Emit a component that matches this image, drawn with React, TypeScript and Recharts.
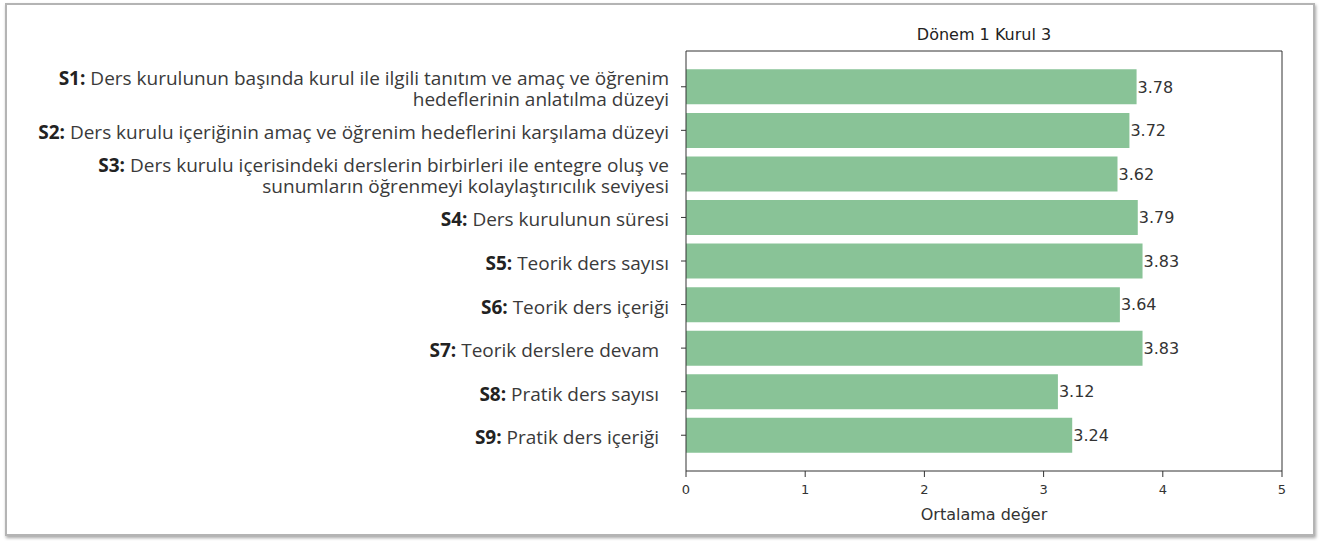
import React from 'react';
import { BarChart, Bar, XAxis, YAxis, LabelList } from 'recharts';

const codes = ['S1', 'S2', 'S3', 'S4', 'S5', 'S6', 'S7', 'S8', 'S9'];
const questions = [
  ['Ders kurulunun başında kurul ile ilgili tanıtım ve amaç ve öğrenim', 'hedeflerinin anlatılma düzeyi'],
  ['Ders kurulu içeriğinin amaç ve öğrenim hedeflerini karşılama düzeyi'],
  ['Ders kurulu içerisindeki derslerin birbirleri ile entegre oluş ve', 'sunumların öğrenmeyi kolaylaştırıcılık seviyesi'],
  ['Ders kurulunun süresi'],
  ['Teorik ders sayısı'],
  ['Teorik ders içeriği'],
  ['Teorik derslere devam  '],
  ['Pratik ders sayısı  '],
  ['Pratik ders içeriği  '],
];
const scores = [3.78, 3.72, 3.62, 3.79, 3.83, 3.64, 3.83, 3.12, 3.24];
const xTicks = [0, 1, 2, 3, 4, 5];

const data = codes.map((code, i) => ({ code, score: scores[i] }));

const LABEL_FONT = '"Open Sans", sans-serif';
const MPL_FONT = '"DejaVu Sans", sans-serif';

// left labels: bold "Sx:" followed by the question, wrapped like the original
const QuestionTick = (props: any) => {
  const { x, y, payload } = props;
  const i = codes.indexOf(payload.value);
  const lines = questions[i] || [];
  const lh = 21;
  const startY = y - ((lines.length - 1) * lh) / 2 + 2;
  const tx = x - 10;
  const textProps = {
    x: tx,
    textAnchor: 'end' as const,
    dominantBaseline: 'central' as const,
    fontFamily: LABEL_FONT,
    fontSize: 19,
    fill: '#3a3a3a',
    style: { whiteSpace: 'pre' as const },
  };
  return (
    <g>
      {lines.map((line, k) => (
        <text key={k} {...textProps} y={startY + k * lh}>
          {k === 0 ? (
            <>
              <tspan fontWeight="bold" fill="#222">{payload.value + ': '}</tspan>
              <tspan>{line}</tspan>
            </>
          ) : (
            line
          )}
        </text>
      ))}
    </g>
  );
};

export default function App() {
  return (
    <div style={{ position: 'absolute', left: 0, top: 0, width: 1322, height: 541, background: '#fff', overflow: 'hidden' }}>
      <div
        style={{
          position: 'absolute',
          left: 686,
          width: 596,
          top: 25,
          textAlign: 'center',
          fontFamily: MPL_FONT,
          fontSize: 16,
          color: '#222',
        }}
      >
        Dönem 1 Kurul 3
      </div>
      <div style={{ position: 'absolute', left: 0, top: 0 }}>
        <BarChart
          width={1322}
          height={541}
          data={data}
          layout="vertical"
          margin={{ top: 50, right: 39, bottom: 10, left: 0 }}
          barCategoryGap="10%"
        >
          <XAxis
            type="number"
            domain={[0, 5]}
            ticks={xTicks}
            allowDataOverflow
            axisLine={{ stroke: '#333' }}
            tickLine={{ stroke: '#333' }}
            tickSize={6}
            tickMargin={8}
            tick={{ fontFamily: MPL_FONT, fontSize: 13, fill: '#333' }}
            height={60}
            label={{
              value: 'Ortalama değer',
              position: 'insideBottom',
              offset: 11,
              fontFamily: MPL_FONT,
              fontSize: 16,
              fill: '#333',
            }}
          />
          <XAxis
            xAxisId="top"
            orientation="top"
            type="number"
            domain={[0, 5]}
            ticks={xTicks}
            height={1}
            tick={false}
            tickLine={false}
            axisLine={{ stroke: '#333' }}
          />
          <YAxis
            type="category"
            dataKey="code"
            width={686}
            padding={{ top: 14, bottom: 14 }}
            axisLine={{ stroke: '#333' }}
            tickLine={{ stroke: '#333' }}
            tickSize={5}
            interval={0}
            tick={<QuestionTick />}
          />
          <YAxis
            yAxisId="right"
            orientation="right"
            type="category"
            dataKey="code"
            width={1}
            tick={false}
            tickLine={false}
            axisLine={{ stroke: '#333' }}
          />
          <Bar dataKey="score" fill="#89c397" isAnimationActive={false}>
            <LabelList
              dataKey="score"
              position="right"
              offset={1}
              formatter={(v: any) => Number(v).toFixed(2)}
              style={{ fontFamily: MPL_FONT, fontSize: 16, fill: '#333' }}
            />
          </Bar>
        </BarChart>
      </div>
      <div
        style={{
          position: 'absolute',
          left: 5,
          top: 3,
          width: 1306,
          height: 529,
          border: '2px solid #b4b4b4',
          boxShadow: '1px 2px 3px rgba(0,0,0,0.35)',
          pointerEvents: 'none',
        }}
      />
    </div>
  );
}
